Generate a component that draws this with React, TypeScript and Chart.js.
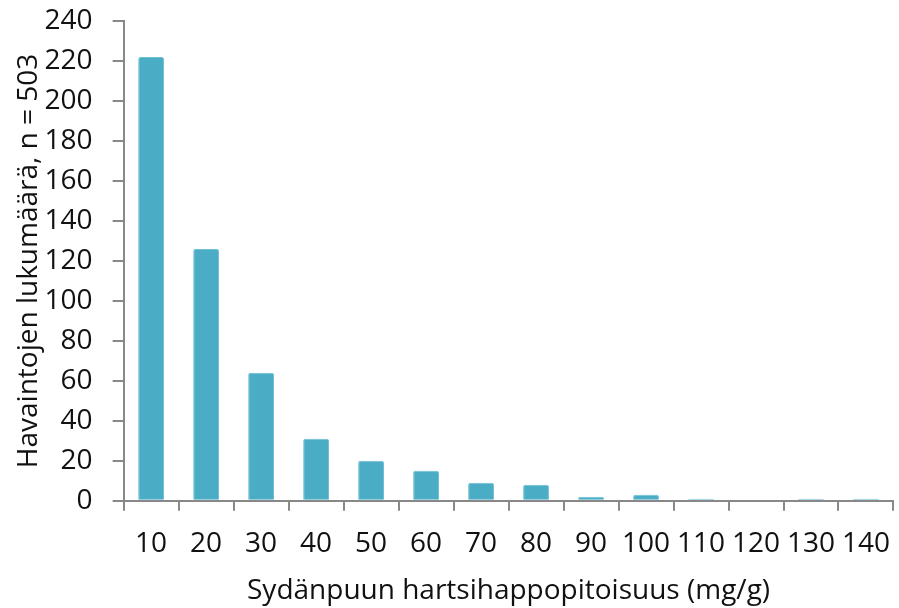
import React, { useEffect, useRef } from "react";
import { Chart, registerables } from "chart.js";

Chart.register(...registerables);

const categories = ["10", "20", "30", "40", "50", "60", "70", "80", "90", "100", "110", "120", "130", "140"];
const counts = [222, 126, 64, 31, 20, 15, 9, 8, 2, 3, 1, 0, 1, 1];
const yTitle = "Havaintojen lukumäärä, n = 503";
const xTitle = "Sydänpuun hartsihappopitoisuus (mg/g)";

export default function App() {
  const ref = useRef<HTMLCanvasElement | null>(null);
  useEffect(() => {
    if (!ref.current) return;
    const font = { family: "'Open Sans', 'Noto Sans', sans-serif", size: 28 };
    const chart = new Chart(ref.current, {
      type: "bar",
      data: {
        labels: categories,
        datasets: [
          {
            data: counts,
            backgroundColor: "#4BACC6",
            borderColor: "#6fbfd4",
            borderWidth: 1,
            borderRadius: 2,
            borderSkipped: "bottom",
            barPercentage: 0.47,
            categoryPercentage: 1,
          },
        ],
      },
      options: {
        responsive: false,
        animation: false,
        layout: { padding: { top: 0, right: 0, left: 0, bottom: 0 } },
        plugins: { legend: { display: false }, tooltip: { enabled: false } },
        scales: {
          x: {
            offset: true,
            afterFit: (scale: any) => {
              scale.height -= 6;
            },
            grid: {
              offset: true,
              drawOnChartArea: false,
              drawTicks: true,
              tickLength: 10,
              color: "#888888",
              lineWidth: 2,
            },
            border: { color: "#888888", width: 2 },
            ticks: { color: "#111111", font, padding: 16, maxRotation: 0, autoSkip: false },
            title: { display: true, text: xTitle, color: "#111111", font, padding: { top: 4, bottom: 0 } },
          },
          y: {
            min: 0,
            max: 240,
            afterFit: (scale: any) => {
              scale.width -= 21;
              scale.paddingTop = 21;
              scale.paddingBottom = 10;
            },
            grid: {
              drawOnChartArea: false,
              drawTicks: true,
              tickLength: 11,
              color: "#888888",
              lineWidth: 2,
            },
            border: { color: "#888888", width: 2 },
            ticks: { stepSize: 20, color: "#111111", font, padding: 20 },
            title: { display: true, text: yTitle, color: "#111111", font, padding: { top: 12, bottom: 0 } },
          },
        },
      },
    });
    return () => chart.destroy();
  }, []);
  return (
    <div style={{ position: "fixed", left: 0, top: 0, width: 899, height: 608, overflow: "hidden", background: "#fff" }}>
      <canvas ref={ref} width={906} height={608} />
    </div>
  );
}
